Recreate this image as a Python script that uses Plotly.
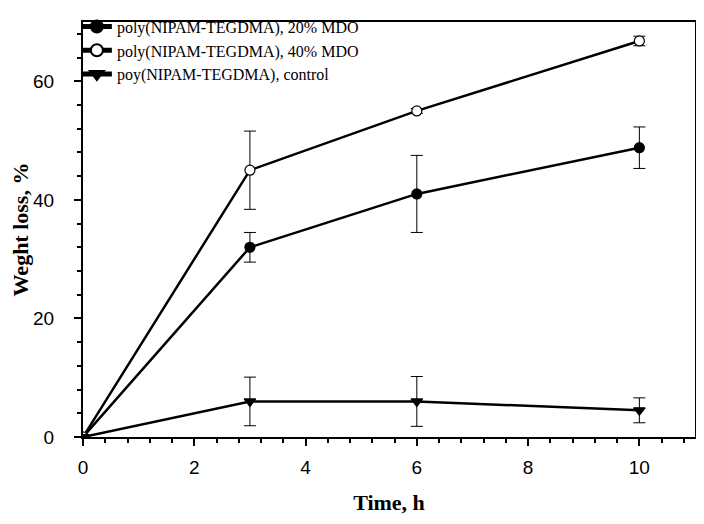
import plotly.graph_objects as go

time_h = [0, 3, 6, 10]
mdo20 = [0, 32.0, 41.0, 48.8]
mdo20_err = [0, 2.5, 6.5, 3.5]
mdo40 = [0, 45.0, 55.0, 66.8]
mdo40_err = [0, 6.6, 0.4, 0.8]
control = [0, 6.0, 6.0, 4.5]
control_err = [0, 4.1, 4.2, 2.1]

names = ["poly(NIPAM-TEGDMA), 20% MDO", "poly(NIPAM-TEGDMA), 40% MDO", "poy(NIPAM-TEGDMA), control"]

fig = go.Figure()

def add(y, err, name, symbol, fill):
    fig.add_trace(go.Scatter(
        x=time_h, y=y, name=name, mode="lines+markers",
        line=dict(color="black", width=2.5),
        marker=dict(symbol=symbol, size=10, color=fill, line=dict(color="black", width=1.2)),
        error_y=dict(type="data", array=err, visible=True, color="black", thickness=1, width=6),
    ))

add(mdo20, mdo20_err, names[0], "circle", "black")
add(mdo40, mdo40_err, names[1], "circle", "white")
add(control, control_err, names[2], "triangle-down", "black")

axis_common = dict(
    showline=True, linecolor="black", linewidth=2, mirror=True,
    ticks="outside", ticklen=7, tickwidth=1.5, tickcolor="black",
    showgrid=False, zeroline=False, automargin=False,
    tickfont=dict(family="Liberation Sans, Arial", size=19, color="black"),
)

title_font = dict(family="Liberation Serif, Times New Roman", size=22, color="black")

fig.update_xaxes(
    range=[0, 11], tickvals=[0, 2, 4, 6, 8, 10],
    minor=dict(dtick=0.4, tick0=0, ticks="outside", ticklen=4, tickwidth=1.5, tickcolor="black"),
    title=dict(text="<b>Time, h</b>", font=title_font, standoff=18),
    ticklabelstandoff=5,
    **axis_common,
)
fig.update_yaxes(
    range=[0, 70], tickvals=[0, 20, 40, 60],
    minor=dict(dtick=4, tick0=0, ticks="outside", ticklen=4, tickwidth=1.5, tickcolor="black"),
    title=dict(text="<b>Weght loss, %</b>", font=title_font, standoff=0),
    ticklabelstandoff=16,
    **axis_common,
)

fig.update_layout(
    width=696, height=516,
    margin=dict(l=75, r=9, t=2, b=87),
    plot_bgcolor="white", paper_bgcolor="white",
    font=dict(family="Liberation Serif, Times New Roman", color="black"),
    legend=dict(x=-0.01, y=1.03, xanchor="left", yanchor="top",
                font=dict(family="Liberation Serif, Times New Roman", size=16, color="black"),
                bgcolor="rgba(0,0,0,0)", tracegroupgap=0, itemsizing="constant"),
)

fig.write_html("out.html")
